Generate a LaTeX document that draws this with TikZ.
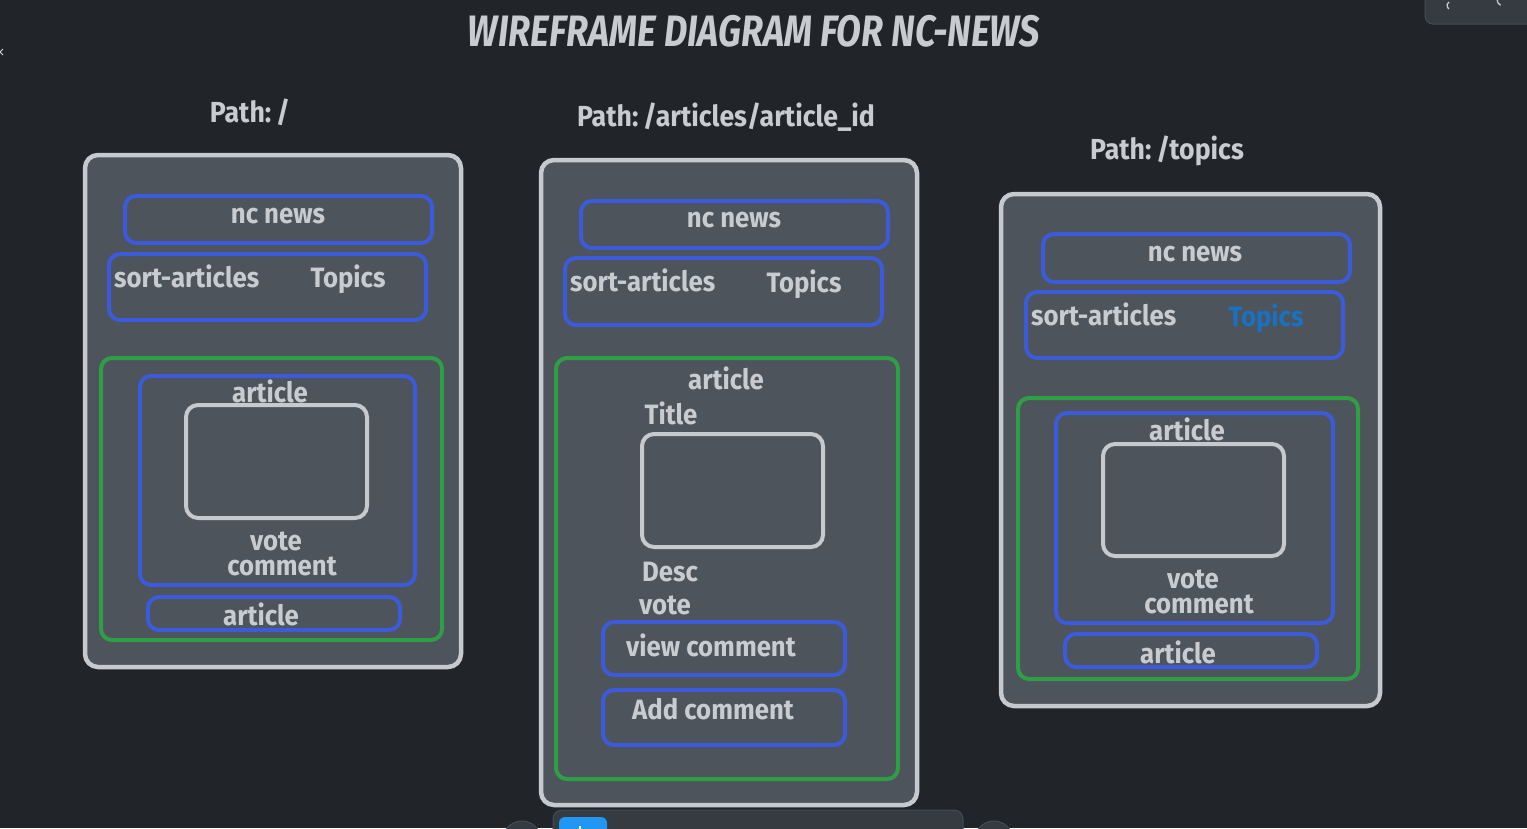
\documentclass[tikz,border=0pt]{standalone}
\usepackage{fontspec}
\setmainfont{Fira Sans}[FakeStretch=0.92]
\newfontfamily\headfont{Fira Sans}[FakeStretch=0.82]
\usetikzlibrary{fit}
\definecolor{canvas}{RGB}{33,36,41}
\definecolor{panel}{RGB}{78,84,91}
\definecolor{edge}{RGB}{198,201,205}
\definecolor{ink}{RGB}{200,203,207}
\definecolor{bluebox}{RGB}{59,91,219}
\definecolor{greenbox}{RGB}{47,158,68}
\definecolor{linkblue}{RGB}{25,113,194}
\definecolor{chrome}{RGB}{54,59,66}
\definecolor{chromeedge}{RGB}{70,76,84}
\definecolor{accent}{RGB}{33,150,243}
\tikzset{
  box/.style={inner sep=0pt, line width=4pt, rounded corners=11pt},
  screen/.style={box, draw=edge, fill=panel, line width=4.5pt, rounded corners=13pt},
  bluerect/.style={box, draw=bluebox},
  greenrect/.style={box, draw=greenbox},
  imagerect/.style={box, draw=edge, rounded corners=12pt},
  lbl/.style={text=ink, inner sep=0pt, font=\fontsize{28}{31}\selectfont\bfseries},
  pathlbl/.style={lbl, font=\fontsize{29}{32}\selectfont\bfseries},
  heading/.style={text=ink, inner sep=0pt, font=\headfont\fontsize{44}{48}\selectfont\bfseries\itshape},
}
\begin{document}
\begin{tikzpicture}[x=1pt, y=-1pt]
\fill[canvas] (0,0) rectangle (1527,828);
\useasboundingbox (0,0) rectangle (1527,828);

% heading
\node[heading] (title) at (754,31) {WIREFRAME DIAGRAM FOR NC-NEWS};

% ---------- home page: Path: / ----------
\node[pathlbl] (path1) at (250,112) {Path:\,/};
\node[screen, fit={(85,155) (461,667)}] (s1) {};
\node[bluerect, fit={(125,196) (432,243)}] (s1nav) {};
\node[lbl] (s1navt) at (278,216) {nc news};
\node[bluerect, fit={(109,254) (426,320)}] (s1bar) {};
\node[lbl, anchor=west] (s1sort) at (114,276) {sort-articles};
\node[lbl] (s1topics) at (348,279) {Topics};
\node[greenrect, fit={(101,358) (442,640)}] (s1list) {};
\node[bluerect, fit={(140,376) (415,585)}] (s1card) {};
\node[lbl] (s1cardt) at (270,391) {article};
\node[imagerect, fit={(186,405) (367,518)}] (s1img) {};
\node[lbl] (s1vote) at (276,541) {vote};
\node[lbl] (s1comment) at (282,566) {comment};
\node[bluerect, fit={(148,597) (400,630)}] (s1next) {};
\node[lbl] (s1nextt) at (261,614) {article};

% ---------- single article: Path: /articles/article_id ----------
\node[pathlbl] (path2) at (726,117) {Path:\,/articles/article\_id};
\node[screen, fit={(541,160) (917,805)}] (s2) {};
\node[bluerect, fit={(581,201) (888,248)}] (s2nav) {};
\node[lbl] (s2navt) at (734,220) {nc news};
\node[bluerect, fit={(565,258) (882,325)}] (s2bar) {};
\node[lbl, anchor=west] (s2sort) at (570,280) {sort-articles};
\node[lbl] (s2topics) at (804,284) {Topics};
\node[greenrect, fit={(556,358) (898,779)}] (s2body) {};
\node[lbl] (s2art) at (726,378) {article};
\node[lbl] (s2title) at (671,413) {Title};
\node[imagerect, fit={(642,434) (823,547)}] (s2img) {};
\node[lbl] (s2desc) at (670,572) {Desc};
\node[lbl] (s2vote) at (665,605) {vote};
\node[bluerect, fit={(603,622) (845,675)}] (s2view) {};
\node[lbl] (s2viewt) at (711,645) {view comment};
\node[bluerect, fit={(603,690) (845,745)}] (s2add) {};
\node[lbl] (s2addt) at (713,709) {Add comment};

% ---------- topics page: Path: /topics ----------
\node[pathlbl] (path3) at (1167,151) {Path:\,/topics};
\node[screen, fit={(1001,194) (1380,706)}] (s3) {};
\node[bluerect, fit={(1043,234) (1350,282)}] (s3nav) {};
\node[lbl] (s3navt) at (1195,254) {nc news};
\node[bluerect, fit={(1026,292) (1343,358)}] (s3bar) {};
\node[lbl, anchor=west] (s3sort) at (1031,314) {sort-articles};
\node[lbl, text=linkblue] (s3topics) at (1266,318) {Topics};
\node[greenrect, fit={(1018,398) (1358,679)}] (s3list) {};
\node[bluerect, fit={(1056,413) (1333,623)}] (s3card) {};
\node[lbl] (s3cardt) at (1187,429) {article};
\node[imagerect, fit={(1103,444) (1284,556)}] (s3img) {};
\node[lbl] (s3vote) at (1193,579) {vote};
\node[lbl] (s3comment) at (1199,604) {comment};
\node[bluerect, fit={(1065,634) (1317,667)}] (s3next) {};
\node[lbl] (s3nextt) at (1178,652) {article};

% ---------- editor chrome along the edges ----------
\node[draw=chromeedge, fill=chrome, line width=1pt, rounded corners=8pt, inner sep=0pt,
      fit={(1425,-12) (1545,24)}] (menu) {};
\draw[edge, line width=1.3pt] (1449,2) arc (-60:60:-4pt);
\draw[edge, line width=1.3pt] (1498,-2) arc (150:250:5pt);
\node[draw=chromeedge, fill=chrome, line width=1pt, rounded corners=9pt, inner sep=0pt,
      fit={(553,810) (963,845)}] (toolbar) {};
\node[fill=accent, rounded corners=6pt, inner sep=0pt, fit={(559,817) (607,845)}] (tool) {};
\draw[white, line width=1.2pt] (580,826) -- (580,830);
\node[circle, fill=chrome, draw=chromeedge, line width=1pt, minimum size=38pt, inner sep=0pt] (zoomout) at (522,840) {};
\node[circle, fill=chrome, draw=chromeedge, line width=1pt, minimum size=38pt, inner sep=0pt] (zoomin) at (994,840) {};
\draw[edge!70, line width=1pt] (3,49) -- (0,52) -- (3,55);
\end{tikzpicture}
\end{document}
